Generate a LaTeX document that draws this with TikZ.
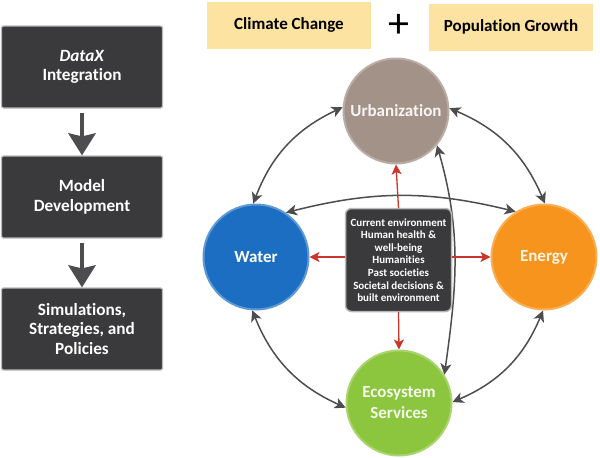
\documentclass[tikz,border=0pt]{standalone}
\usepackage{fontspec}
\setmainfont[Ligatures=NoCommon]{Carlito}
\usepackage{tikz}
\usetikzlibrary{positioning}
\usetikzlibrary{arrows.meta}

\definecolor{boxgray}{HTML}{3A3A3C}
\definecolor{linkgray}{HTML}{4D4D4F}
\definecolor{peach}{HTML}{FDE3A1}
\definecolor{urbanc}{HTML}{A39287}
\definecolor{waterc}{HTML}{1B6EC2}
\definecolor{energyc}{HTML}{F7941D}
\definecolor{ecoc}{HTML}{8CC63E}
\definecolor{pushred}{HTML}{C9372C}

\begin{document}
\begin{tikzpicture}[x=1pt, y=-1pt, line cap=round, line join=round,
    stepbox/.style={fill=boxgray, draw=gray!55, line width=1.2pt, rounded corners=2pt,
        minimum width=161pt, minimum height=82pt, text=white, align=center,
        font=\bfseries\fontsize{17.2}{19.5}\selectfont},
    driver/.style={fill=peach, minimum width=164pt, minimum height=47pt,
        font=\bfseries\fontsize{17}{19}\selectfont},
    hub/.style={circle, minimum size=105pt, inner sep=0pt, line width=2pt, align=center,
        font=\bfseries\fontsize{17}{21}\selectfont},
    core/.style={fill=boxgray, draw=gray!55, line width=1.5pt, rounded corners=6pt,
        minimum width=106pt, minimum height=103pt, inner sep=1pt, text=white, align=center,
        font=\bfseries\fontsize{11}{12.6}\selectfont},
    flow/.style={draw=linkgray, line width=4.5pt, line cap=butt,
        -{Stealth[length=22pt, width=27pt, inset=3pt]}},
    link/.style={draw=linkgray, line width=1.5pt,
        {Stealth[length=11pt, width=11pt, inset=3pt]}-{Stealth[length=11pt, width=11pt, inset=3pt]}},
    push/.style={draw=pushred, line width=1.3pt,
        -{Stealth[length=10pt, width=10pt, inset=2.5pt]}}]

    % canvas
    \useasboundingbox (0,0) rectangle (600,458);

    % workflow column
    \node[stepbox] (integ) at (82,67)  {\textit{DataX}\\Integration};
    \node[stepbox] (model) at (82,197) {Model\\Development};
    \node[stepbox] (simul) at (82,329) {Simulations,\\Strategies, and\\Policies};
    \draw[flow] (integ.south) ++(0,4) coordinate (f1) -- (model.north);
    \draw[flow] (model.south) ++(0,4) coordinate (f2) -- (simul.north);

    % drivers
    \node[driver] (climate) at (289,25) {Climate Change};
    \node[driver] (popul)   at (511,27) {Population Growth};
    \node[font=\fontsize{42}{42}\selectfont] (plus) at (399,26) {+};

    % sectors
    \node[hub, fill=urbanc,  draw=urbanc!75!white,  text=white!92!urbanc]  (u) at (396,111) {Urbanization};
    \node[hub, fill=waterc,  draw=waterc!70!white,  text=white]           (w) at (256,257) {Water};
    \node[hub, fill=energyc, draw=energyc!75!white, text=white!90!energyc] (e) at (544,257) {Energy};
    \node[hub, fill=ecoc,    draw=ecoc!75!white,    text=white!90!ecoc]    (s) at (399,403) {Ecosystem\\Services};

    % sector links
    \draw[link] (w.93) to[bend left=22] (u.176);
    \draw[link] (u.3) to[bend left=22] (e.89);
    \draw[link] (w.56) to[bend left=14] (e.122);
    \draw[link] (w.266) to[bend right=22] (s.185);
    \draw[link] (e.269) to[bend left=22] (s.1);
    \draw[link] (u.-40) to[out=-74, in=82] (s.32);

    % human dimensions
    \node[core] (c) at (398.5,260) {Current environment\\Human health \&\\well-being\\Humanities\\Past societies\\Societal decisions \&\\built environment};
    \draw[push] (c.north) -- (u.south);
    \draw[push] (c.west |- w.east) -- (w.east);
    \draw[push] (c.east |- e.west) -- (e.west);
    \draw[push] (c.south) -- (s.north);
\end{tikzpicture}
\end{document}
